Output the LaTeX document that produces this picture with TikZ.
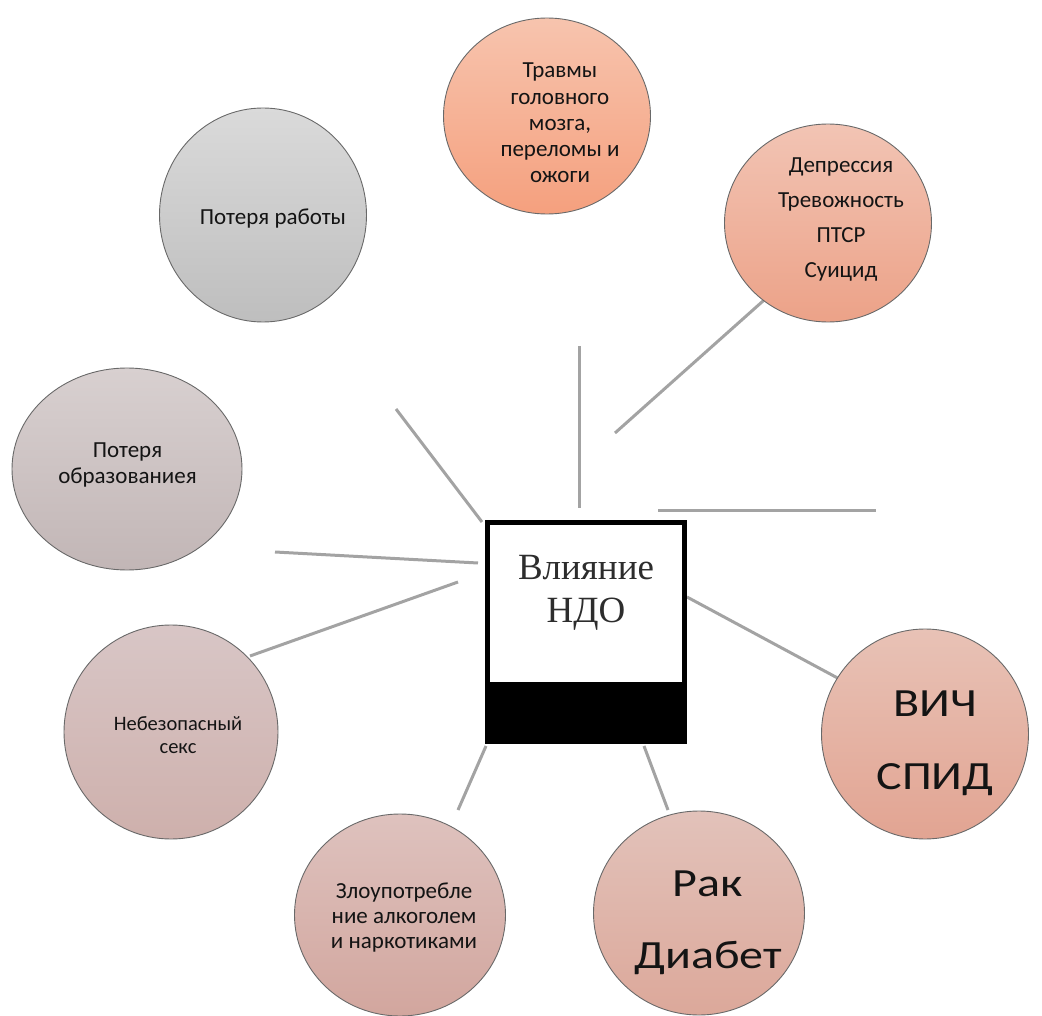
\documentclass[tikz,border=0pt]{standalone}
\usepackage{fontspec}
\setmainfont{Carlito}
\newfontfamily\calfont{Carlito}
\newfontfamily\calwide[FakeStretch=1.2]{Carlito}
\newfontfamily\serifn{Liberation Serif}
\usetikzlibrary{shapes.geometric}
\definecolor{lnc}{RGB}{163,163,163}
\definecolor{edg}{RGB}{105,105,105}
\definecolor{txt}{RGB}{20,20,20}
\definecolor{ttl}{RGB}{45,45,45}
\definecolor{aT}{RGB}{247,196,174}\definecolor{aB}{RGB}{245,160,126}
\definecolor{bT}{RGB}{242,196,180}\definecolor{bB}{RGB}{236,162,136}
\definecolor{cT}{RGB}{218,218,218}\definecolor{cB}{RGB}{190,190,190}
\definecolor{dT}{RGB}{216,208,208}\definecolor{dB}{RGB}{194,182,182}
\definecolor{eT}{RGB}{216,198,198}\definecolor{eB}{RGB}{206,176,172}
\definecolor{fT}{RGB}{222,194,190}\definecolor{fB}{RGB}{210,166,158}
\definecolor{gT}{RGB}{226,194,186}\definecolor{gB}{RGB}{220,168,154}
\definecolor{hT}{RGB}{232,194,182}\definecolor{hB}{RGB}{226,164,146}
\tikzset{
  bubble/.style={ellipse, draw=edg, line width=0.9pt, inner sep=0pt},
  lbl/.style={align=center, text=txt, inner sep=0pt},
  link/.style={draw=lnc, line width=3pt},
}
\begin{document}
\begin{tikzpicture}[x=1pt,y=-1pt]
\useasboundingbox (0,0) rectangle (1042,1016);
% connector ends
\coordinate (a1) at (579,346); \coordinate (a2) at (579,508);
\coordinate (b1) at (615,433); \coordinate (b2) at (772,293);
\coordinate (d1) at (658,510); \coordinate (d2) at (876,510);
\coordinate (e1) at (396,409); \coordinate (e2) at (482,522);
\coordinate (f1) at (275,552); \coordinate (f2) at (478,563);
\coordinate (g1) at (458,582); \coordinate (g2) at (250,656);
\coordinate (h1) at (687,597); \coordinate (h2) at (845,682);
\coordinate (i1) at (486,746); \coordinate (i2) at (458,810);
\coordinate (j1) at (644,746); \coordinate (j2) at (668,810);
\draw[link] (a1) -- (a2);
\draw[link] (b1) -- (b2);
\draw[link] (d1) -- (d2);
\draw[link] (e1) -- (e2);
\draw[link] (f1) -- (f2);
\draw[link] (g1) -- (g2);
\draw[link] (h1) -- (h2);
\draw[link] (i1) -- (i2);
\draw[link] (j1) -- (j2);
\begin{scope}
\clip (0,0) rectangle (1042,1016);
% bubbles
\node[bubble, top color=aT, bottom color=aB, minimum width=207pt, minimum height=196pt] (c1) at (547,116) {};
\node[bubble, top color=bT, bottom color=bB, minimum width=207pt, minimum height=198pt] (c2) at (828,223) {};
\node[bubble, top color=cT, bottom color=cB, minimum width=207pt, minimum height=214pt] (c3) at (263,215) {};
\node[bubble, top color=dT, bottom color=dB, minimum width=230pt, minimum height=202pt] (c4) at (127,469) {};
\node[bubble, top color=eT, bottom color=eB, minimum width=214pt, minimum height=214pt] (c5) at (171,732) {};
\node[bubble, top color=fT, bottom color=fB, minimum width=211pt, minimum height=202pt] (c6) at (400,915) {};
\node[bubble, top color=gT, bottom color=gB, minimum width=211pt, minimum height=204pt] (c7) at (699,913) {};
\node[bubble, top color=hT, bottom color=hB, minimum width=207pt, minimum height=210pt] (c8) at (925,734) {};
\end{scope}
% texts
\node[lbl, font=\calfont\fontsize{23}{26.25}\selectfont] (t1) at (560,123) {Травмы\\головного\\мозга,\\переломы и\\ожоги};
\node[lbl, font=\calfont\fontsize{23}{35}\selectfont] (t2) at (841,220) {Депрессия\\Тревожность\\ПТСР\\Суицид};
\node[lbl, font=\calfont\fontsize{23}{27}\selectfont] (t3) at (273,219) {Потеря работы};
\node[lbl, font=\calfont\fontsize{23}{26.7}\selectfont] (t4) at (127.5,465) {Потеря\\образованиея};
\node[lbl, font=\calfont\fontsize{20.5}{23}\selectfont] (t5) at (178,735.5) {Небезопасный\\секс};
\node[lbl, font=\calfont\fontsize{23}{25}\selectfont] (t6) at (404,918) {Злоупотребле\\ние алкоголем\\и наркотиками};
\node[lbl, font=\calwide\fontsize{40}{72}\selectfont] (t7) at (708,923) {Рак\\Диабет};
\node[lbl, font=\calwide\fontsize{40}{73}\selectfont] (t8) at (935,743) {ВИЧ\\СПИД};
% central box
\node[draw=black, line width=5pt, fill=white, minimum width=197pt, minimum height=219pt, inner sep=0pt] (ndo) at (586,632) {};
\fill[black] (487.5,682) rectangle (684.5,741.5);
\node[align=center, text=ttl, inner sep=0pt, font=\serifn\fontsize{37}{43}\selectfont] (ndot) at (586,593) {Влияние\\НДО};
\end{tikzpicture}
\end{document}
